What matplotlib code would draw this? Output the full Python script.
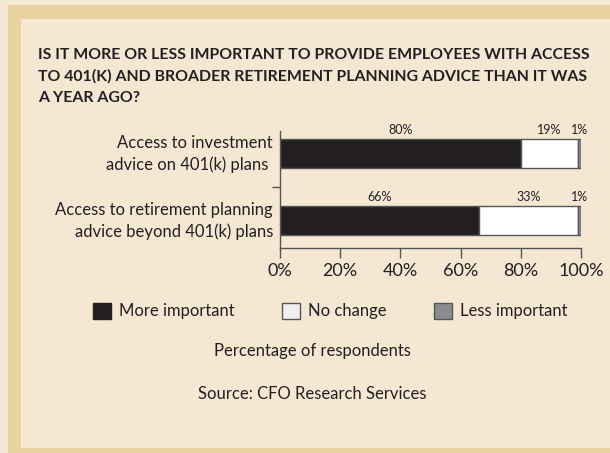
import numpy as np
import matplotlib.pyplot as plt
from matplotlib.patches import Rectangle, Patch

# data
categories = ['Access to investment\nadvice on 401(k) plans ',
              'Access to retirement planning\nadvice beyond 401(k) plans']
more_important = [80, 66]
no_change = [19, 33]
less_important = [1, 1]
series_names = ['More important', 'No change', 'Less important']
xticks = [0, 20, 40, 60, 80, 100]

bg = '#f5e8d3'
frame = '#e8d3a0'
ink = '#231f20'
colors = [ink, '#ffffff', '#8c8c8e']

plt.rcParams['font.family'] = ['Lato', 'DejaVu Sans']

fig = plt.figure(figsize=(6.1, 4.53), dpi=100)
fig.patch.set_facecolor(bg)

# frame bands (top, left, bottom)
fig.patches.append(Rectangle((8 / 610, 1 - 19 / 453), 1, 14 / 453, transform=fig.transFigure,
                             facecolor=frame, edgecolor='none', zorder=0))
fig.patches.append(Rectangle((8 / 610, 0), 13 / 610, 1 - 5 / 453, transform=fig.transFigure,
                             facecolor=frame, edgecolor='none', zorder=0))
fig.patches.append(Rectangle((8 / 610, 0), 1, 5 / 453, transform=fig.transFigure,
                             facecolor=frame, edgecolor='none', zorder=0))

title_lines = ['IS IT MORE OR LESS IMPORTANT TO PROVIDE EMPLOYEES WITH ACCESS',
               'TO 401(K) AND BROADER RETIREMENT PLANNING ADVICE THAN IT WAS',
               'A YEAR AGO?']
for i, line in enumerate(title_lines):
    fig.text(38 / 610, 1 - (55 + 21.5 * i) / 453, line, fontsize=11.4, fontweight='bold',
             color=ink, ha='left', va='center')

ax = fig.add_axes([280 / 610, 1 - 248 / 453, 301 / 610, 117 / 453])
ax.set_facecolor('none')

y = np.arange(len(categories))
h = 0.43
left = np.zeros(len(categories))
for vals, col, name in zip([more_important, no_change, less_important], colors, series_names):
    ax.barh(y, vals, left=left, height=h, color=col, edgecolor='#555555', linewidth=1.0, label=name)
    left = left + np.array(vals)

# value labels above each segment
left = np.zeros(len(categories))
for vals in [more_important, no_change, less_important]:
    for i, v in enumerate(vals):
        ax.text(left[i] + v / 2, y[i] - h / 2 - 0.05, f'{v}%', ha='center', va='bottom',
                fontsize=9, color=ink)
    left = left + np.array(vals)

ax.set_xlim(0, 100)
ax.set_ylim(1.41, -0.336)
ax.set_xticks(xticks)
ax.set_xticklabels([f'{t}%' for t in xticks], fontsize=13, color=ink)
ax.set_yticks(y - 0.05)
ax.set_yticklabels(categories, fontsize=12, color=ink, linespacing=1.35)
ax.set_yticks([0.5], minor=True)
ax.tick_params(axis='y', which='major', length=0, pad=5)
ax.tick_params(axis='y', which='minor', length=6, color='#555555', width=1)
ax.tick_params(axis='x', length=7, width=1, color='#555555', pad=4)
for s in ['top', 'right']:
    ax.spines[s].set_visible(False)
for s in ['left', 'bottom']:
    ax.spines[s].set_color('#555555')
    ax.spines[s].set_linewidth(1)

handles = [Patch(facecolor=c, edgecolor='#555555' if c != ink else ink, label=n)
           for c, n in zip([ink, '#eeeeee', '#8c8c8e'], series_names)]
fig.legend(handles=handles, loc='center', bbox_to_anchor=(330 / 610, 1 - 311 / 453), ncol=3,
           frameon=False, fontsize=12, handlelength=1.1, handleheight=1.1,
           handletextpad=0.45, columnspacing=2.85, labelcolor=ink)

fig.text(312 / 610, 1 - 351 / 453, 'Percentage of respondents', fontsize=12, color=ink,
         ha='center', va='center')
fig.text(312 / 610, 1 - 394 / 453, 'Source: CFO Research Services', fontsize=12, color=ink,
         ha='center', va='center')

fig.savefig('out.png', dpi=100, facecolor=bg)
